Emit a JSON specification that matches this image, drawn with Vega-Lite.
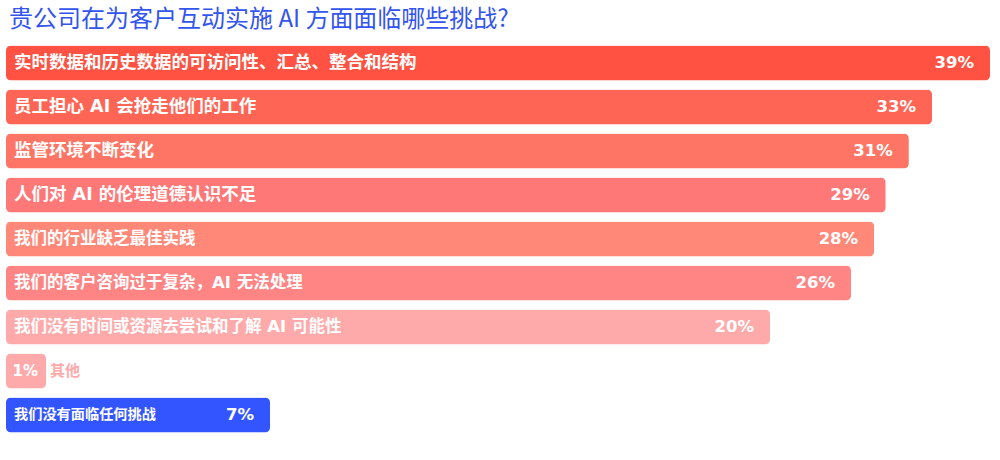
{
  "$schema": "https://vega.github.io/schema/vega-lite/v6.json",
  "width": 984,
  "height": 396,
  "padding": {"left": 6, "top": 8, "right": 10, "bottom": 23},
  "title": {
    "text": "贵公司在为客户互动实施 AI 方面面临哪些挑战?",
    "font": "Noto Sans CJK SC",
    "fontSize": 24,
    "fontWeight": "normal",
    "color": "#3355EE",
    "anchor": "start",
    "dx": 3,
    "offset": 9
  },
  "config": {"view": {"stroke": null}},
  "data": {
    "values": [
      {"rank": 1, "label": "实时数据和历史数据的可访问性、汇总、整合和结构", "pct": 0.39},
      {"rank": 2, "label": "员工担心 AI 会抢走他们的工作", "pct": 0.33},
      {"rank": 3, "label": "监管环境不断变化", "pct": 0.31},
      {"rank": 4, "label": "人们对 AI 的伦理道德认识不足", "pct": 0.29},
      {"rank": 5, "label": "我们的行业缺乏最佳实践", "pct": 0.28},
      {"rank": 6, "label": "我们的客户咨询过于复杂，AI 无法处理", "pct": 0.26},
      {"rank": 7, "label": "我们没有时间或资源去尝试和了解 AI 可能性", "pct": 0.20},
      {"rank": 8, "label": "其他", "pct": 0.01},
      {"rank": 9, "label": "我们没有面临任何挑战", "pct": 0.07}
    ]
  },
  "encoding": {
    "y": {
      "field": "label",
      "type": "nominal",
      "sort": [
        "实时数据和历史数据的可访问性、汇总、整合和结构",
        "员工担心 AI 会抢走他们的工作",
        "监管环境不断变化",
        "人们对 AI 的伦理道德认识不足",
        "我们的行业缺乏最佳实践",
        "我们的客户咨询过于复杂，AI 无法处理",
        "我们没有时间或资源去尝试和了解 AI 可能性",
        "其他",
        "我们没有面临任何挑战"
      ],
      "axis": null,
      "scale": {"paddingInner": 0.2, "paddingOuter": 0.1}
    }
  },
  "layer": [
    {
      "mark": {"type": "bar", "cornerRadius": 5},
      "encoding": {
        "x": {
          "field": "pct",
          "type": "quantitative",
          "axis": null,
          "scale": {
            "domain": [0, 0.01, 0.07, 0.20, 0.26, 0.33, 0.39],
            "range": [0, 40, 264, 764, 845, 926, 984],
            "nice": false,
            "zero": false,
            "clamp": false
          }
        },
        "color": {
          "field": "label",
          "type": "nominal",
          "legend": null,
          "scale": {
            "domain": [
              "实时数据和历史数据的可访问性、汇总、整合和结构",
              "员工担心 AI 会抢走他们的工作",
              "监管环境不断变化",
              "人们对 AI 的伦理道德认识不足",
              "我们的行业缺乏最佳实践",
              "我们的客户咨询过于复杂，AI 无法处理",
              "我们没有时间或资源去尝试和了解 AI 可能性",
              "其他",
              "我们没有面临任何挑战"
            ],
            "range": ["#FF5242", "#FF6555", "#FF7565", "#FF7878", "#FF8878", "#FF8585", "#FFAAAA", "#FFAAAA", "#3355FF"]
          }
        }
      }
    },
    {
      "transform": [{"filter": "datum.label != '其他'"}],
      "mark": {
        "type": "text",
        "align": "left",
        "baseline": "middle",
        "dx": 8,
        "font": "DejaVu Sans, Noto Sans CJK SC",
        "fontWeight": "bold",
        "color": "white"
      },
      "encoding": {
        "x": {"datum": 0},
        "text": {"field": "label"},
        "size": {
          "condition": [
            {"test": "datum.rank <= 4", "value": 17.5},
            {"test": "datum.rank == 9", "value": 14.2}
          ],
          "value": 16.5
        }
      }
    },
    {
      "transform": [{"filter": "datum.label != '其他'"}],
      "mark": {
        "type": "text",
        "align": "right",
        "baseline": "middle",
        "dx": -16,
        "font": "DejaVu Sans",
        "fontWeight": "bold",
        "fontSize": 16.5,
        "color": "white"
      },
      "encoding": {
        "x": {"field": "pct", "type": "quantitative"},
        "text": {"field": "pct", "type": "quantitative", "format": ".0%"}
      }
    },
    {
      "transform": [{"filter": "datum.label == '其他'"}],
      "mark": {
        "type": "text",
        "align": "right",
        "baseline": "middle",
        "dx": -8,
        "font": "DejaVu Sans",
        "fontWeight": "bold",
        "fontSize": 15,
        "color": "white"
      },
      "encoding": {
        "x": {"field": "pct", "type": "quantitative"},
        "text": {"field": "pct", "type": "quantitative", "format": ".0%"}
      }
    },
    {
      "transform": [{"filter": "datum.label == '其他'"}],
      "mark": {
        "type": "text",
        "align": "left",
        "baseline": "middle",
        "dx": 4,
        "font": "Noto Sans CJK SC",
        "fontWeight": "bold",
        "fontSize": 15,
        "color": "#FFAAAA"
      },
      "encoding": {
        "x": {"field": "pct", "type": "quantitative"},
        "text": {"field": "label"}
      }
    }
  ]
}
